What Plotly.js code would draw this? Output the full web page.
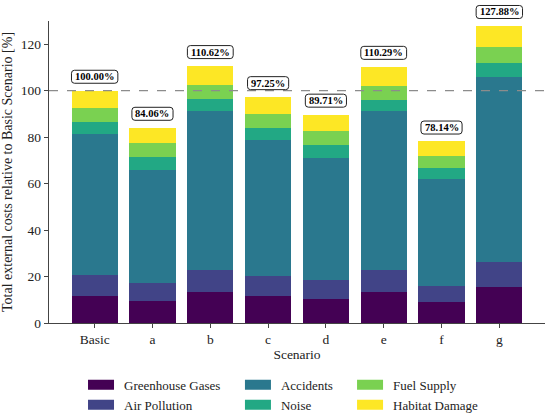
<!DOCTYPE html>
<html>
<head>
<meta charset="utf-8">
<script src="https://cdn.plot.ly/plotly-3.0.1.min.js"></script>
<style>html,body{margin:0;padding:0;background:#fff;}#chart{width:550px;height:416px;}</style>
</head>
<body>
<div id="chart"></div>
<script>
const scenarios = ["Basic", "a", "b", "c", "d", "e", "f", "g"];
const greenhouseGases = [11.6, 9.5, 13.2, 11.5, 10.2, 13.4, 9.1, 15.5];
const airPollution = [8.9, 7.7, 9.5, 8.6, 8.5, 9.4, 7.0, 10.6];
const accidents = [60.7, 48.6, 68.7, 58.6, 52.4, 68.3, 45.8, 79.8];
const noise = [5.2, 5.5, 5.0, 5.2, 5.5, 5.0, 4.9, 5.9];
const fuelSupply = [6.1, 6.0, 6.0, 6.0, 6.0, 6.1, 5.2, 6.9];
const habitatDamage = [7.5, 6.76, 8.22, 7.35, 7.11, 8.09, 6.14, 9.18];
const totalLabels = ["100.00%", "84.06%", "110.62%", "97.25%", "89.71%", "110.29%", "78.14%", "127.88%"];
const totals = [100.00, 84.06, 110.62, 97.25, 89.71, 110.29, 78.14, 127.88];
const yTicks = [0, 20, 40, 60, 80, 100, 120];

const seriesNames = ["Greenhouse Gases", "Air Pollution", "Accidents", "Noise", "Fuel Supply", "Habitat Damage"];
const seriesValues = [greenhouseGases, airPollution, accidents, noise, fuelSupply, habitatDamage];
const colors = ["#440154", "#414487", "#2a788e", "#22a884", "#7ad151", "#fde725"];
const legendIds = ["legend", "legend", "legend2", "legend2", "legend3", "legend3"];

const serif = "Liberation Serif, Times New Roman, serif";
const yMax = 130;

const traces = seriesNames.map((n, i) => ({
  type: "bar",
  name: n,
  x: scenarios,
  y: seriesValues[i],
  marker: {color: colors[i], line: {width: 0}},
  width: 0.8,
  legend: legendIds[i],
  hoverinfo: "skip"
}));

const canvas = document.createElement("canvas");
const ctx = canvas.getContext("2d");
ctx.font = "bold 10.5px " + serif;

const labelPos = totals.map(t => (t + 6) / yMax);

const annotations = scenarios.map((s, i) => ({
  x: s, y: labelPos[i], xref: "x", yref: "paper",
  text: "<b>" + totalLabels[i] + "</b>",
  showarrow: false,
  font: {family: serif, size: 10.5, color: "#000"},
  xanchor: "center", yanchor: "middle"
}));

const shapes = [{
  type: "line", xref: "paper", yref: "y", x0: 0, x1: 1, y0: 100, y1: 100,
  line: {color: "#8c8c8c", width: 1.2, dash: "dash"}, layer: "above"
}];

scenarios.forEach((s, i) => {
  const w = ctx.measureText(totalLabels[i]).width / 2 + 3.5;
  const h = 6.5, r = 3;
  const path = `M ${-w + r} ${-h} L ${w - r} ${-h} Q ${w} ${-h} ${w} ${-h + r} L ${w} ${h - r} Q ${w} ${h} ${w - r} ${h} L ${-w + r} ${h} Q ${-w} ${h} ${-w} ${h - r} L ${-w} ${-h + r} Q ${-w} ${-h} ${-w + r} ${-h} Z`;
  shapes.push({
    type: "path", xref: "x", yref: "paper",
    xsizemode: "pixel", ysizemode: "pixel",
    xanchor: i, yanchor: labelPos[i],
    path: path,
    fillcolor: "#ffffff",
    line: {color: "#222", width: 1},
    layer: "above"
  });
});

const legendBase = {
  orientation: "v",
  y: -0.155, yanchor: "top",
  traceorder: "normal",
  font: {family: serif, size: 13, color: "#222"},
  bgcolor: "rgba(0,0,0,0)",
  itemwidth: 30,
  tracegroupgap: 0
};

const layout = {
  width: 550, height: 416,
  margin: {l: 49, r: 5, t: 21, b: 93, autoexpand: false},
  paper_bgcolor: "#fff", plot_bgcolor: "#fff",
  barmode: "stack",
  showlegend: true,
  font: {family: serif, size: 13, color: "#222"},
  xaxis: {
    type: "category",
    range: [-0.79, 7.79],
    showline: true, linecolor: "#444", linewidth: 1.2,
    ticks: "outside", ticklen: 4, tickcolor: "#444",
    showgrid: false, zeroline: false,
    tickfont: {family: serif, size: 13.5, color: "#222"},
    title: {text: "Scenario", font: {family: serif, size: 13.5, color: "#222"}, standoff: 3}
  },
  yaxis: {
    range: [0, yMax],
    tickvals: yTicks,
    showline: true, linecolor: "#444", linewidth: 1.2,
    ticks: "outside", ticklen: 4, tickcolor: "#444",
    showgrid: false, zeroline: false,
    tickfont: {family: serif, size: 13.5, color: "#222"},
    title: {text: "Total external costs relative to Basic Scenario [%]", font: {family: serif, size: 14, color: "#222"}, standoff: 5}
  },
  legend: Object.assign({}, legendBase, {x: 0.0706, xanchor: "left"}),
  legend2: Object.assign({}, legendBase, {x: 0.387, xanchor: "left"}),
  legend3: Object.assign({}, legendBase, {x: 0.613, xanchor: "left"}),
  annotations: annotations,
  shapes: shapes
};

function widenSwatches() {
  document.querySelectorAll("#chart .legendpoints path").forEach(p => {
    p.setAttribute("d", "M-16,-5h26v10h-26z");
  });
}

Plotly.newPlot("chart", traces, layout, {displayModeBar: false, staticPlot: true}).then(widenSwatches);
</script>
</body>
</html>
